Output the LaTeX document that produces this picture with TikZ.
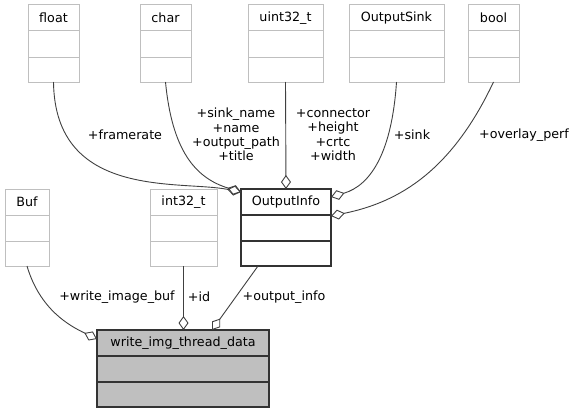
\documentclass[tikz,border=0pt]{standalone}
\usepackage{fontspec}
\setmainfont{DejaVu Sans}
\usetikzlibrary{arrows.meta}

\begin{document}
\begin{tikzpicture}[x=1pt, y=-1pt, font=\fontsize{12.7}{14.4}\selectfont,
    extclass/.style={draw=black!25, line width=1pt},
    mainclass/.style={draw=black!80, line width=1.2pt},
    focusclass/.style={draw=black!80, fill=black!25, line width=1.2pt},
    member/.style={draw=black!75, line width=0.9pt, -{Diamond[open, length=14pt, width=10pt]}},
    lbl/.style={align=center, inner sep=0pt}]
    \useasboundingbox (0,0) rectangle (577,412);

    % name, x, y, width, title, style
    \def\classbox#1#2#3#4#5#6{%
        \node[#6, anchor=north west, minimum width=#4pt, minimum height=77pt, inner sep=0pt, outer sep=0pt] (#1) at (#2,#3) {};
        \node (#1-name) at ([yshift=-13pt]#1.north) {#5};
        \draw[#6] ([yshift=-26pt]#1.north west) -- ([yshift=-26pt]#1.north east);
        \draw[#6] ([yshift=-52pt]#1.north west) -- ([yshift=-52pt]#1.north east);
    }

    % top row
    \classbox{float}{28}{5}{51}{float}{extclass}
    \classbox{char}{140}{5}{51}{char}{extclass}
    \classbox{uint}{248}{5}{75}{uint32\_t}{extclass}
    \classbox{sink}{349}{5}{95}{OutputSink}{extclass}
    \classbox{bool}{468}{5}{51}{bool}{extclass}

    % middle row
    \classbox{buf}{5}{189}{44}{Buf}{extclass}
    \classbox{int}{150}{189}{67}{int32\_t}{extclass}
    \classbox{oinfo}{241}{189}{90}{OutputInfo}{mainclass}

    % bottom
    \classbox{wimg}{97}{330}{172}{write\_img\_thread\_data}{focusclass}

    % members of OutputInfo
    \draw[member] (float.south) .. controls (55,200) and (180,180) .. ([yshift=-3pt]oinfo.north west);
    \draw[member] (char.south) .. controls (172,150) and (195,178) .. ([yshift=-3pt]oinfo.north west);
    \draw[member] (uint.south) -- (oinfo.north);
    \draw[member] (sink.south) .. controls (392,150) and (372,185) .. ([yshift=-8pt]oinfo.north east);
    \draw[member] (bool.south) .. controls (452,170) and (400,202) .. ([yshift=-27pt]oinfo.north east);

    % members of write_img_thread_data
    \draw[member] (buf.south) .. controls (40,310) and (70,326) .. ([yshift=-9pt]wimg.north west);
    \draw[member] (int.south) -- (int.south |- wimg.north);
    \draw[member] ([xshift=-28pt]oinfo.south) -- ([xshift=29pt]wimg.north);

    \node[lbl] (l-framerate) at (125,135) {+framerate};
    \node[lbl] (l-char) at (236,134.5) {+sink\_name\\+name\\+output\_path\\+title};
    \node[lbl] (l-uint) at (333,134.5) {+connector\\+height\\+crtc\\+width};
    \node[lbl] (l-sink) at (412,135) {+sink};
    \node[lbl] (l-bool) at (524,135) {+overlay\_perf};
    \node[lbl] (l-buf) at (117,297) {+write\_image\_buf};
    \node[lbl] (l-int) at (199,297) {+id};
    \node[lbl] (l-oinfo) at (284,297) {+output\_info};

\end{tikzpicture}
\end{document}
